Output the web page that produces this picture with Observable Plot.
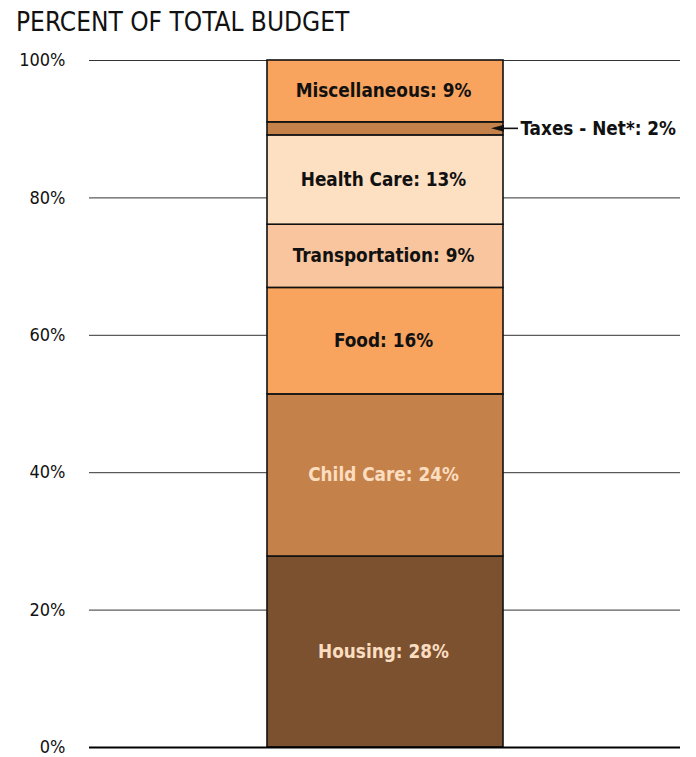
<!DOCTYPE html>
<html><head><meta charset="utf-8">
<script src="https://cdn.jsdelivr.net/npm/d3@7"></script>
<script src="https://cdn.jsdelivr.net/npm/@observablehq/plot@0.6"></script>
<style>
body{margin:0;background:#fff;font-family:"DejaVu Sans Condensed","DejaVu Sans",sans-serif;width:696px;height:757px;overflow:hidden;position:relative}
#title{position:absolute;left:16px;top:9px;font-size:26px;line-height:1;color:#111;white-space:nowrap}
#chart{position:absolute;left:0;top:40px}
</style></head><body>
<div id="title">PERCENT OF TOTAL BUDGET</div>
<div id="chart"></div>
<script>
const categories = ["Housing","Child Care","Food","Transportation","Health Care","Taxes - Net*","Miscellaneous"];
const shares = [27.8, 23.6, 15.5, 9.2, 13.0, 1.9, 9.0];
const labelPercents = [28, 24, 16, 9, 13, 2, 9];
const yTicks = [0, 20, 40, 60, 80, 100];
const segmentColors = ["#7B5130","#C5814A","#F8A35E","#F8C59E","#FDDFC2","#C5814A","#F8A35E"];
const labelColors = ["#FBDDC0","#FBDDC0","#111111","#111111","#111111","#111111","#111111"];
const outsideCategory = "Taxes - Net*";

const data = categories.map((c, i) => ({category: c, share: shares[i], pct: labelPercents[i], idx: i}));
const group = () => "budget";
const font = "'DejaVu Sans Condensed', 'DejaVu Sans', sans-serif";

const chart = Plot.plot({
  width: 696,
  height: 717,
  marginTop: 20,
  marginBottom: 10,
  marginLeft: 89,
  marginRight: 16,
  style: {fontFamily: font, background: "#fff"},
  x: {axis: null, padding: 0.4286},
  y: {domain: [0, 100], axis: null},
  color: {type: "identity"},
  marks: [
    Plot.ruleY(yTicks.filter(t => t > 0), {stroke: "#333", strokeWidth: 1}),
    Plot.axisY({ticks: yTicks, tickFormat: d => d + "%", tickSize: 0, tickPadding: 24, fontSize: 18, label: null, fill: "#111"}),
    Plot.barY(data, Plot.stackY({
      x: group, y: "share",
      fill: d => segmentColors[d.idx],
      stroke: "#111", strokeWidth: 1.6
    })),
    Plot.text(data, Plot.stackY({
      x: group, y: "share",
      text: d => d.category === outsideCategory ? null : `${d.category}: ${d.pct}%`,
      fill: d => labelColors[d.idx],
      fontSize: 18.8, fontWeight: "bold", dx: -2
    })),
    Plot.text(data, Plot.stackY({
      x: group, y: "share",
      text: d => d.category === outsideCategory ? `${d.category}: ${d.pct}%` : null,
      fill: "#111", textAnchor: "start", dx: 135,
      fontSize: 18.8, fontWeight: "bold"
    })),
    Plot.ruleY([0], {stroke: "#000", strokeWidth: 2.2})
  ]
});
document.getElementById("chart").appendChild(chart);

// Leader arrow for the thin outside-labelled segment, placed with the plot's own scales
const xs = chart.scale("x"), ys = chart.scale("y");
const oi = categories.indexOf(outsideCategory);
const below = d3.sum(shares.slice(0, oi));
const yMid = ys.apply(below + shares[oi] / 2);
const xRight = xs.apply("budget") + xs.bandwidth;
const svg = d3.select(chart);
svg.append("line").attr("x1", xRight - 2).attr("x2", xRight + 15).attr("y1", yMid).attr("y2", yMid)
  .attr("stroke", "#111").attr("stroke-width", 1.6);
svg.append("path")
  .attr("d", `M${xRight - 12},${yMid} L${xRight + 1},${yMid - 3.5} L${xRight + 1},${yMid + 3.5} Z`)
  .attr("fill", "#111");
</script>
</body></html>
